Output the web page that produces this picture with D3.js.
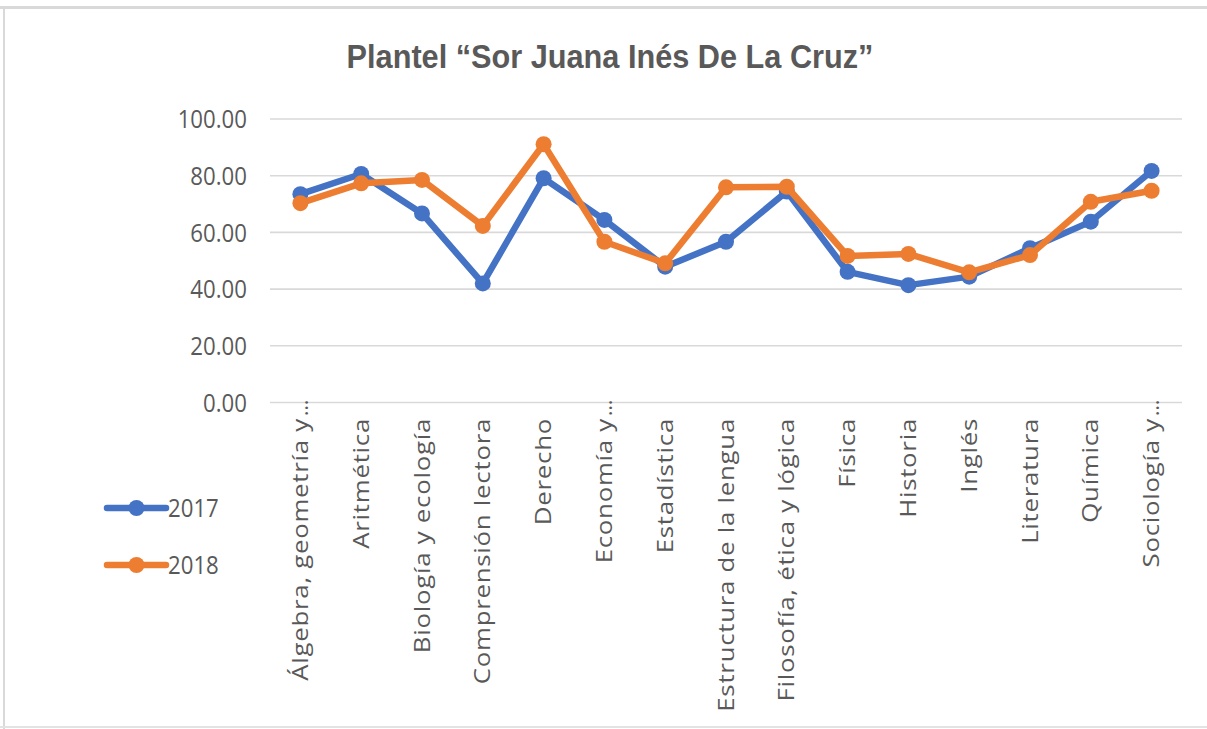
<!DOCTYPE html>
<html>
<head>
<meta charset="utf-8">
<script src="https://cdn.jsdelivr.net/npm/d3@7"></script>
<style>
  html, body { margin: 0; padding: 0; background: #fff; }
  svg { display: block; }
</style>
</head>
<body>
<svg id="chart" width="1207" height="729"></svg>
<script>
// Subject areas (x axis), in display order
const categories = [
  "Álgebra, geometría y…",
  "Aritmética",
  "Biología y ecología",
  "Comprensión lectora",
  "Derecho",
  "Economía y…",
  "Estadística",
  "Estructura de la lengua",
  "Filosofía, ética y lógica",
  "Física",
  "Historia",
  "Inglés",
  "Literatura",
  "Química",
  "Sociología y…"
];

// Average scores per year
const values2017 = [73.5, 80.6, 66.7, 42.0, 79.1, 64.4, 47.9, 56.7, 74.4, 46.1, 41.4, 44.4, 54.4, 63.8, 81.7];
const values2018 = [70.3, 77.3, 78.5, 62.3, 91.1, 56.7, 49.1, 75.9, 76.1, 51.7, 52.4, 45.9, 52.0, 70.8, 74.7];

const seriesNames = ["2017", "2018"];
const seriesColors = ["#4472C4", "#ED7D31"];

const yTicks = [0, 20, 40, 60, 80, 100];
const chartTitle = "Plantel “Sor Juana Inés De La Cruz”";

const svg = d3.select("#chart");
const textColor = "#595959";

// Outer frame
svg.append("rect").attr("x", 0).attr("y", 0).attr("width", 1207).attr("height", 729).attr("fill", "#fff");
svg.append("rect").attr("x", 0).attr("y", 6).attr("width", 1207).attr("height", 3).attr("fill", "#d9d9d9");
svg.append("rect").attr("x", 3).attr("y", 6).attr("width", 2).attr("height", 723).attr("fill", "#d9d9d9");
svg.append("rect").attr("x", 0).attr("y", 726).attr("width", 1207).attr("height", 2).attr("fill", "#e3e3e3");

const x = d3.scaleBand().domain(categories).range([270, 1182]).padding(0);
const y = d3.scaleLinear().domain([0, 100]).range([402.5, 119]);
const cx = d => x(d) + x.bandwidth() / 2;

// Gridlines
svg.append("g").selectAll("line").data(yTicks).join("line")
  .attr("x1", 270).attr("x2", 1182)
  .attr("y1", d => y(d)).attr("y2", d => y(d))
  .attr("stroke", "#d9d9d9").attr("stroke-width", 1.6);

// Y tick labels
const fmt = d3.format(".2f");
svg.append("g").selectAll("text").data(yTicks).join("text")
  .attr("transform", d => `translate(247,${y(d)}) scale(0.855,1)`)
  .attr("text-anchor", "end")
  .attr("dy", "0.36em")
  .attr("font-family", "Open Sans, sans-serif")
  .attr("font-size", 26)
  .attr("fill", textColor)
  .text(d => fmt(d));

// Category labels (rotated)
const labelTop = 418;
const labels = svg.append("g");
categories.forEach(c => {
  const trunc = c.endsWith("…");
  const main = trunc ? c.slice(0, -1) : c;
  labels.append("text")
    .attr("transform", `translate(${cx(c)},${labelTop}) rotate(-90) scale(1.23,1)`)
    .attr("text-anchor", "end")
    .attr("dy", "0.36em")
    .attr("letter-spacing", 0.6)
    .attr("font-family", "Open Sans, sans-serif")
    .attr("font-size", 21)
    .attr("fill", textColor)
    .text(main);
  if (trunc) {
    labels.append("text")
      .attr("transform", `translate(${cx(c)},${labelTop - 2}) rotate(-90)`)
      .attr("text-anchor", "start")
      .attr("dy", "0.36em")
      .attr("font-family", "Open Sans, sans-serif")
      .attr("font-size", 21)
      .attr("fill", textColor)
      .text("…");
  }
});

// Series lines and markers
const series = [values2017, values2018];
const line = d3.line().x((d, i) => cx(categories[i])).y(d => y(d));
series.forEach((vals, si) => {
  const g = svg.append("g");
  g.append("path")
    .datum(vals)
    .attr("d", line)
    .attr("fill", "none")
    .attr("stroke", seriesColors[si])
    .attr("stroke-width", 6.5)
    .attr("stroke-linejoin", "round")
    .attr("stroke-linecap", "round");
  g.selectAll("circle").data(vals).join("circle")
    .attr("cx", (d, i) => cx(categories[i]))
    .attr("cy", d => y(d))
    .attr("r", 8)
    .attr("fill", seriesColors[si]);
});

// Legend
const legendY = [508, 565];
seriesNames.forEach((name, i) => {
  const g = svg.append("g");
  g.append("line")
    .attr("x1", 107).attr("x2", 166)
    .attr("y1", legendY[i]).attr("y2", legendY[i])
    .attr("stroke", seriesColors[i]).attr("stroke-width", 6.5).attr("stroke-linecap", "round");
  g.append("circle").attr("cx", 136.5).attr("cy", legendY[i]).attr("r", 8).attr("fill", seriesColors[i]);
  g.append("text")
    .attr("transform", `translate(168,${legendY[i]}) scale(0.855,1)`)
    .attr("dy", "0.36em")
    .attr("font-family", "Open Sans, sans-serif")
    .attr("font-size", 26)
    .attr("fill", textColor)
    .text(name);
});

// Title, condensed to its box width
const title = svg.append("text")
  .attr("text-anchor", "middle")
  .attr("font-family", "Liberation Sans, Arial, sans-serif")
  .attr("font-weight", "bold")
  .attr("font-size", 34)
  .attr("fill", textColor)
  .text(chartTitle);
const natural = title.node().getComputedTextLength();
const sx = 527 / natural;
title.attr("transform", `translate(610,68) scale(${sx},1)`);
</script>
</body>
</html>
